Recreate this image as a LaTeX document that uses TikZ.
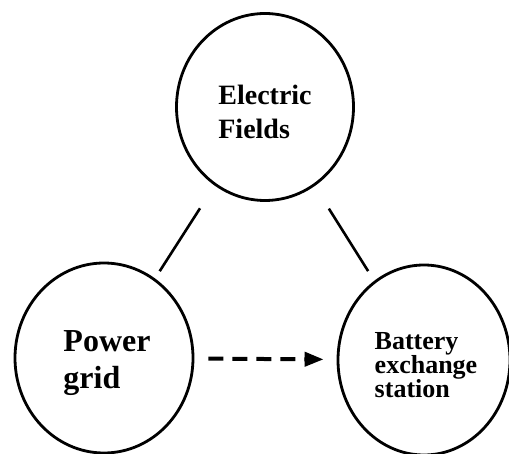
\documentclass[tikz,border=0pt]{standalone}
\usepackage{fontspec}
\setmainfont{Liberation Serif}
\usetikzlibrary{arrows.meta,shapes.geometric}

\begin{document}
\begin{tikzpicture}[x=0.5pt,y=-0.5pt,line width=1.3pt,every label/.style={align=left,yshift=-2.5pt},ring/.style={draw,ellipse,line width=1.4pt,inner sep=0pt}]
\useasboundingbox (0,0) rectangle (509,454);
\node[ring,minimum width=88.5pt,minimum height=93.5pt,label={[font=\fontsize{14}{17}\selectfont\bfseries]center:{Electric\\Fields}}] (fields) at (265,107) {};
\node[ring,minimum width=89pt,minimum height=95pt,label={[font=\fontsize{16}{18.5}\selectfont\bfseries,xshift=1.5pt]center:{Power\\grid}}] (grid) at (104,358) {};\node[ring,minimum width=86pt,minimum height=95pt,label={[font=\fontsize{13}{12}\selectfont\bfseries,xshift=1pt]center:{Battery\\exchange\\station}}] (station) at (424,360) {};
\draw[shorten <=13.5pt,shorten >=4.3pt] (fields)--(grid);\draw[shorten <=13.3pt,shorten >=5.7pt] (fields)--(station);
\draw[line width=2pt,dash pattern=on 7.5pt off 4.5pt,-{Triangle[length=9.5pt,width=7pt]},shorten <=7pt,shorten >=6.5pt] (grid)--(station);
\end{tikzpicture}
\end{document}
